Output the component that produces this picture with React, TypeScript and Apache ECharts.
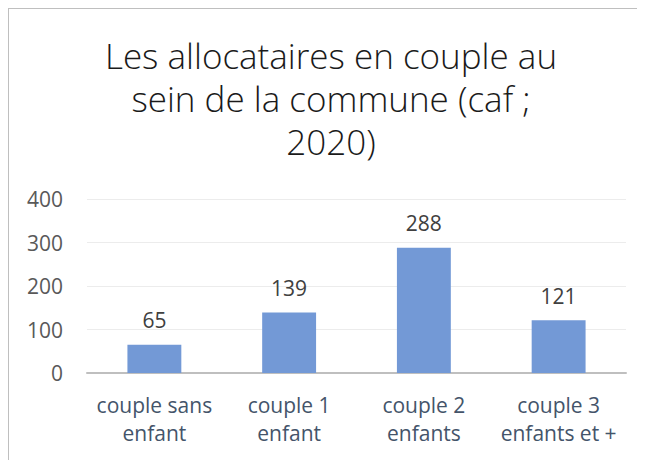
import React, { useEffect, useRef } from "react";
import * as echarts from "echarts";

const titleLines = ["Les allocataires en couple au", "sein de la commune (caf ;", "2020)"];
const categories = ["couple sans\nenfant", "couple 1\nenfant", "couple 2\nenfants", "couple 3\nenfants et +"];
const values = [65, 139, 288, 121];

export default function App() {
  const ref = useRef<HTMLDivElement>(null);
  useEffect(() => {
    if (!ref.current) return;
    const chart = echarts.init(ref.current, undefined, { renderer: "svg" });
    chart.setOption({
      animation: false,
      backgroundColor: "#ffffff",
      title: titleLines.map((t, i) => ({
        text: t,
        left: "center",
        top: 25 + i * 43,
        padding: 0,
        textStyle: {
          fontFamily: "Open Sans",
          fontWeight: 300,
          fontSize: 35,
          lineHeight: 42,
          color: "#1a1a1a",
        },
      })),
      grid: { left: 78, right: 27, top: 190, bottom: 95, containLabel: false },
      xAxis: {
        type: "category",
        data: categories,
        axisLine: { lineStyle: { color: "#bfbfbf", width: 2 } },
        axisTick: { show: false },
        axisLabel: {
          fontFamily: "Open Sans",
          fontSize: 21,
          lineHeight: 28,
          color: "#44546a",
          margin: 18,
          interval: 0,
        },
      },
      yAxis: {
        type: "value",
        min: 0,
        max: 400,
        interval: 100,
        axisLine: { show: false },
        axisTick: { show: false },
        splitLine: { lineStyle: { color: "#ececec", width: 1 } },
        axisLabel: {
          fontFamily: "Open Sans",
          fontSize: 21,
          color: "#595959",
          margin: 24,
        },
      },
      series: [
        {
          type: "bar",
          data: values,
          barWidth: "40%",
          itemStyle: { color: "#7399d6" },
          label: {
            show: true,
            position: "top",
            distance: 14,
            fontFamily: "Open Sans",
            fontSize: 21,
            color: "#404040",
          },
        },
      ],
    });
    return () => chart.dispose();
  }, []);
  return (
    <div
      style={{
        width: 645,
        height: 460,
        borderLeft: "1px solid #bfbfbf",
        borderTop: "1px solid #bfbfbf",
        boxSizing: "border-box",
      }}
    >
      <div ref={ref} style={{ width: 644, height: 459 }} />
    </div>
  );
}
